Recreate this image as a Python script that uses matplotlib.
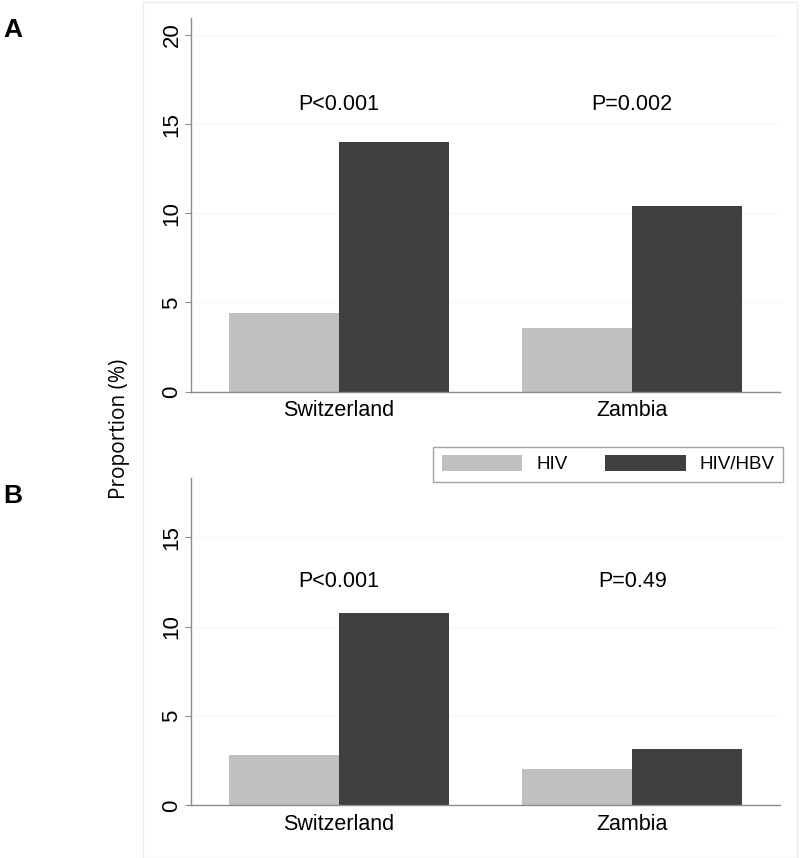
import matplotlib.pyplot as plt
import matplotlib.patches as mpatches
import numpy as np

plt.rcParams['font.family'] = ['Liberation Sans', 'DejaVu Sans']

countries = ['Switzerland', 'Zambia']
groups = ['HIV', 'HIV/HBV']
colors = ['#c0c0c0', '#404040']

# panel A / panel B proportions (%)
a_hiv = [4.43, 3.59]
a_hbv = [14.0, 10.43]
b_hiv = [2.82, 2.05]
b_hbv = [10.74, 3.13]
a_pvals = ['P<0.001', 'P=0.002']
b_pvals = ['P<0.001', 'P=0.49']

fig = plt.figure(figsize=(8, 8.58), dpi=100)

# faint panel outline
fig.patches.append(mpatches.Rectangle((0.179, 0.0), 0.817, 0.998, transform=fig.transFigure,
                                      fill=False, edgecolor='#ececec', linewidth=1))

axA = fig.add_axes([0.2384, 0.5435, 0.7366, 0.4352])
axB = fig.add_axes([0.2384, 0.0614, 0.7366, 0.3818])

x = np.arange(len(countries))
w = 0.375


def draw(ax, hiv, hbv, pvals, ymax, ticks, ptext_y):
    ax.bar(x - w / 2, hiv, w, color=colors[0], label=groups[0], zorder=2)
    ax.bar(x + w / 2, hbv, w, color=colors[1], label=groups[1], zorder=2)
    ax.set_xlim(-0.506, 1.504)
    ax.set_ylim(0, ymax)
    ax.set_yticks(ticks)
    ax.set_yticklabels([str(t) for t in ticks], rotation=90, va='center', fontsize=16)
    ax.set_xticks(x)
    ax.set_xticklabels(countries, fontsize=15.5)
    ax.tick_params(axis='x', length=0, pad=6)
    ax.tick_params(axis='y', length=4, pad=2, color='#8c8c8c')
    for s in ['top', 'right']:
        ax.spines[s].set_visible(False)
    for s in ['left', 'bottom']:
        ax.spines[s].set_color('#8c8c8c')
        ax.spines[s].set_linewidth(1)
    ax.yaxis.grid(True, color='#f6f6f6', linewidth=1, zorder=0)
    ax.set_axisbelow(True)
    for i, p in enumerate(pvals):
        ax.text(x[i], ptext_y, p, ha='center', va='center', fontsize=15.5)


draw(axA, a_hiv, a_hbv, a_pvals, 20.93, [0, 5, 10, 15, 20], 16.07)
draw(axB, b_hiv, b_hbv, b_pvals, 18.33, [0, 5, 10, 15], 12.55)

handles, labels = axA.get_legend_handles_labels()
leg = fig.legend(handles, labels, loc='upper right', bbox_to_anchor=(0.979, 0.4794),
                 ncol=2, fontsize=13.5, frameon=True, fancybox=False, borderaxespad=0,
                 handlelength=4.3, handleheight=0.9, handletextpad=0.75,
                 columnspacing=2.0, borderpad=0.45)
leg.get_frame().set_edgecolor('#8c8c8c')
leg.get_frame().set_linewidth(1)

fig.text(0.15, 0.5, 'Proportion (%)', rotation=90, ha='center', va='center',
         fontsize=15, family=['Open Sans', 'DejaVu Sans'])
fig.text(0.004, 0.965, 'A', ha='left', va='center', fontsize=19, fontweight='bold')
fig.text(0.004, 0.422, 'B', ha='left', va='center', fontsize=19, fontweight='bold')

plt.savefig('out.png', dpi=100)
plt.close()
